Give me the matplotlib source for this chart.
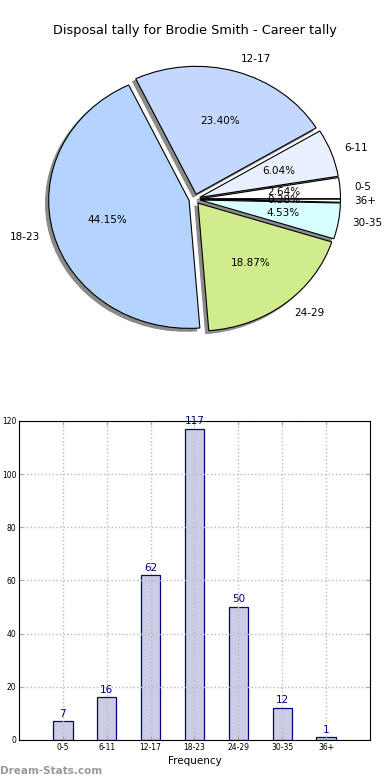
import matplotlib
matplotlib.use("Agg")
import matplotlib.pyplot as plt

# disposal bands and counts
bands = ['0-5', '6-11', '12-17', '18-23', '24-29', '30-35', '36+']
counts = [7, 16, 62, 117, 50, 12, 1]
pie_colors = ['#ffffff', '#e8f0ff', '#c4d8ff', '#b4d4ff', '#d0ec8c', '#d8ffff', '#ffffff']
explode = [0.04] * len(bands)

title = "Disposal tally for Brodie Smith - Career tally"

fig = plt.figure(figsize=(3.9, 7.8), dpi=100)

# pie
ax1 = fig.add_axes([0.0487, 0.5397, 0.9, 0.41])
wedges, texts, autotexts = ax1.pie(
    counts, labels=bands, colors=pie_colors, explode=explode,
    autopct='%1.2f%%', startangle=0,
    shadow=dict(ox=-0.016, oy=-0.016, facecolor='#8a8a8a', edgecolor='#8a8a8a', alpha=1),
    wedgeprops=dict(edgecolor='black', linewidth=0.8),
    textprops=dict(fontsize=7.5))
ax1.set_aspect('auto')
ax1.set_xlim(-1.25, 1.25)
ax1.set_ylim(-1.25, 1.25)
ax1.set_title(title, fontsize=9.3, pad=4)

# bars
ax2 = fig.add_axes([0.0487, 0.0513, 0.9, 0.409])
x = list(range(len(bands)))
bars = ax2.bar(x, counts, width=0.44, color='#ccccE6', edgecolor='#000080',
               linewidth=0.9, zorder=2)
for xi, c in zip(x, counts):
    ax2.text(xi, c + 1, str(c), ha='center', va='bottom', color='#000080', fontsize=7.5)
ax2.set_xlim(-1, 7)
ax2.set_ylim(0, 120)
ax2.set_yticks(range(0, 121, 20))
ax2.set_xticks(x)
ax2.set_xticklabels(bands)
ax2.tick_params(axis='both', labelsize=5.5, direction='in', length=3,
                color='#aaaaaa', top=True, right=True, pad=2)
ax2.grid(True, linestyle=':', color='#bbbbbb', linewidth=1, zorder=3)
ax2.set_axisbelow(False)
for sp in ax2.spines.values():
    sp.set_zorder(5)
ax2.set_xlabel('Frequency', fontsize=7.5, labelpad=3)

fig.text(0.0, 0.011, 'Dream-Stats.com', fontsize=7.5, color='#999999',
         fontweight='bold', ha='left', va='center')

fig.savefig('out.png', dpi=100)
